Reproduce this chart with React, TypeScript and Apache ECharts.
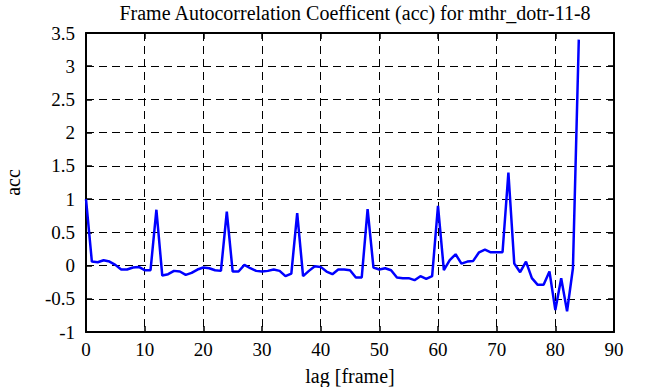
import React, { useEffect, useRef } from "react";
import * as echarts from "echarts";

const titleText = "Frame Autocorrelation Coefficent (acc) for mthr_dotr-11-8";
const xLabel = "lag [frame]";
const yLabel = "acc";

const lags: number[] = [
  0, 1, 2, 3, 4, 5, 6, 7, 8, 9, 10, 11, 12, 13, 14, 15, 16, 17, 18, 19, 20,
  21, 22, 23, 24, 25, 26, 27, 28, 29, 30, 31, 32, 33, 34, 35, 36, 37, 38, 39, 40,
  41, 42, 43, 44, 45, 46, 47, 48, 49, 50, 51, 52, 53, 54, 55, 56, 57, 58, 59, 60,
  61, 62, 63, 64, 65, 66, 67, 68, 69, 70, 71, 72, 73, 74, 75, 76, 77, 78, 79, 80,
  81, 82, 83, 84,
];

const acc: number[] = [
  1.0, 0.06, 0.05, 0.08, 0.06, 0.01, -0.06, -0.06, -0.03, -0.02, -0.07,
  -0.07, 0.84, -0.15, -0.13, -0.08, -0.09, -0.14, -0.11, -0.06, -0.03,
  -0.04, -0.07, -0.08, 0.81, -0.09, -0.09, 0.01, -0.04, -0.08, -0.09,
  -0.08, -0.06, -0.08, -0.16, -0.12, 0.79, -0.16, -0.08, -0.01, -0.02,
  -0.09, -0.13, -0.06, -0.06, -0.07, -0.18, -0.18, 0.85, -0.03, -0.06,
  -0.04, -0.07, -0.18, -0.19, -0.19, -0.22, -0.16, -0.2, -0.16, 0.9,
  -0.07, 0.08, 0.17, 0.03, 0.06, 0.07, 0.2, 0.24, 0.2, 0.2,
  0.2, 1.4, 0.03, -0.1, 0.06, -0.19, -0.29, -0.29, -0.09, -0.67,
  -0.19, -0.69, -0.04, 3.4,
];

const xMin = 0;
const xMax = 90;
const xStep = 10;
const yMin = -1;
const yMax = 3.5;
const yStep = 0.5;

const FONT = "Liberation Serif";

export default function App() {
  const ref = useRef<HTMLDivElement>(null);
  useEffect(() => {
    if (!ref.current) return;
    const chart = echarts.init(ref.current, null, { renderer: "svg" });
    const tickStyle = { show: true, inside: true, length: 6, lineStyle: { color: "#000", width: 1.5 } };
    const lineStyle = { show: true, onZero: false, lineStyle: { color: "#000", width: 2 } };
    const gridLine = { show: true, lineStyle: { color: "#000", width: 1, type: [8, 5] as any } };
    chart.setOption({
      animation: false,
      backgroundColor: "#fff",
      title: {
        text: titleText,
        left: 350,
        textAlign: "center",
        top: -2,
        textStyle: { fontFamily: FONT, fontSize: 20, fontWeight: "normal", color: "#000" },
      },
      grid: { left: 86, right: 32, top: 33, bottom: 55, containLabel: false, outerBoundsMode: "none" },
      xAxis: [
        {
          type: "value",
          min: xMin,
          max: xMax,
          interval: xStep,
          position: "bottom",
          name: xLabel,
          nameLocation: "middle",
          nameGap: 34,
          nameTextStyle: { fontFamily: FONT, fontSize: 20, color: "#000" },
          axisLine: lineStyle,
          axisTick: tickStyle,
          splitLine: gridLine,
          axisLabel: { fontFamily: FONT, fontSize: 19, color: "#000", margin: 8 },
        },
        {
          type: "value",
          min: xMin,
          max: xMax,
          interval: xStep,
          position: "top",
          axisLine: lineStyle,
          axisTick: tickStyle,
          splitLine: { show: false },
          axisLabel: { show: false },
        },
      ],
      yAxis: [
        {
          type: "value",
          min: yMin,
          max: yMax,
          interval: yStep,
          position: "left",
          name: yLabel,
          nameLocation: "middle",
          nameGap: 63,
          nameRotate: 90,
          nameTextStyle: { fontFamily: FONT, fontSize: 20, color: "#000" },
          axisLine: lineStyle,
          axisTick: tickStyle,
          splitLine: gridLine,
          axisLabel: { fontFamily: FONT, fontSize: 19, color: "#000", margin: 11 },
        },
        {
          type: "value",
          min: yMin,
          max: yMax,
          interval: yStep,
          position: "right",
          axisLine: lineStyle,
          axisTick: tickStyle,
          splitLine: { show: false },
          axisLabel: { show: false },
        },
      ],
      series: [
        {
          type: "line",
          data: lags.map((l, i) => [l, acc[i]]),
          showSymbol: false,
          symbol: "none",
          lineStyle: { color: "#0000ff", width: 2.5 },
          z: 1,
        },
      ],
    });
    return () => chart.dispose();
  }, []);
  return <div ref={ref} style={{ width: 646, height: 387, position: "absolute", left: 0, top: 0 }} />;
}
